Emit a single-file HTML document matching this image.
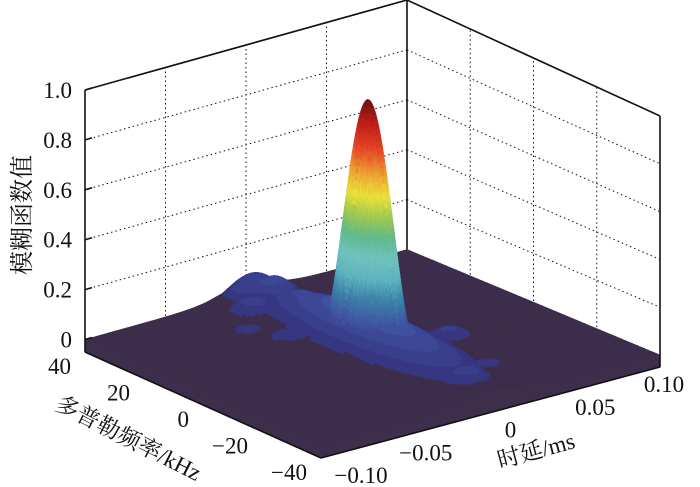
<!DOCTYPE html>
<html><head><meta charset="utf-8"><style>
html,body{margin:0;padding:0;background:#fff;}
svg{display:block;}
text{font-family:"Liberation Serif","Noto Serif CJK SC","Noto Sans CJK SC",serif;fill:#111;}
</style></head><body>
<svg id="chart" width="700" height="487" viewBox="0 0 700 487" xmlns="http://www.w3.org/2000/svg">
<g id="walls"></g>
<g id="surf"></g>
<g id="box"></g>
<g id="labels"></g>
<text x="0" y="0" font-size="24" text-anchor="middle" transform="translate(30,215) rotate(-90)">模糊函数值</text>
<text x="0" y="0" font-size="23" text-anchor="middle" transform="translate(125,445) rotate(27)">多普勒频率/kHz</text>
<text x="0" y="0" font-size="23" text-anchor="middle" transform="translate(538,458) rotate(-15)">时延/ms</text>
</svg>
<script>
// data arrays
const zTicks = [0, 0.2, 0.4, 0.6, 0.8, 1.0];
const zTickLabels = ["0", "0.2", "0.4", "0.6", "0.8", "1.0"];
const fTicks = [40, 20, 0, -20, -40];
const fTickLabels = ["40", "20", "0", "\u221220", "\u221240"];
const dTicks = [-0.10, -0.05, 0, 0.05, 0.10];
const dTickLabels = ["\u22120.10", "\u22120.05", "0", "0.05", "0.10"];
// main peak: delay(ms), doppler(kHz), height
const peakDelay = [0.0];
const peakDoppler = [0];
const peakHeight = [1.0];
// pedestal ridge along doppler at the peak delay
const ridgeHeight = [0.15];
// sidelobes: delay, doppler, height
const lobeDelay =   [0.0,  0.0,  0.0,  0.0,  0.0,  -0.03, -0.05, 0.03, 0.05, -0.02, 0.02, -0.04, 0.04, -0.01];
const lobeDoppler = [22,  -24,   31,  -32,   37,    10,    -8,   -10,   8,    27,   -28,   18,   -18,   34];
const lobeHeight =  [0.11, 0.10, 0.12, 0.09, 0.10,  0.07,  0.05, 0.08,  0.05, 0.09,  0.06, 0.06, 0.05,  0.10];

const NS='http://www.w3.org/2000/svg';
const F=[321,458], R=[660,367], L=[85,352], B=[407,262];
const HF=265, HR=251, HL=262, HB=262;
const ZMIN=-0.05;
function proj(d,f,z){
  const a=(d+0.1)/0.2, b=(f+40)/80;
  const x=(1-a)*(1-b)*F[0]+a*(1-b)*R[0]+(1-a)*b*L[0]+a*b*B[0];
  const y0=(1-a)*(1-b)*F[1]+a*(1-b)*R[1]+(1-a)*b*L[1]+a*b*B[1];
  const h=(1-a)*(1-b)*HF+a*(1-b)*HR+(1-a)*b*HL+a*b*HB;
  return [x, y0-(z-ZMIN)/1.05*h];
}
function el(tag,attrs,parent){const e=document.createElementNS(NS,tag);for(const k in attrs)e.setAttribute(k,attrs[k]);parent.appendChild(e);return e;}
function line(p,q,parent,dash,name){
  const e=el('line',{x1:p[0],y1:p[1],x2:q[0],y2:q[1],stroke:'#111','stroke-width':dash?1:1.6},parent);
  if(dash)e.setAttribute('stroke-dasharray','1.5,3');
  
  
  return e;
}
const walls=document.getElementById('walls');
zTicks.forEach(z=>{ if(z>0&&z<1){
  line(proj(-0.1,40,z),proj(0.1,40,z),walls,true,'gridline-z');
  line(proj(0.1,40,z),proj(0.1,-40,z),walls,true,'gridline-z');
}});
dTicks.forEach(d=>{ if(d>-0.1&&d<0.1) line(proj(d,40,ZMIN),proj(d,40,1),walls,true,'gridline-delay');});
fTicks.forEach(f=>{ if(f>-40&&f<40) line(proj(0.1,f,ZMIN),proj(0.1,f,1),walls,true,'gridline-doppler');});
line(proj(0.1,40,ZMIN),proj(0.1,40,1),walls,false,'back-edge');

function zval(d,f){
  let z=0;
  for(let i=0;i<peakDelay.length;i++){
    const u=(d-peakDelay[i])/0.019, v=(f-peakDoppler[i])/13;
    const r=Math.sqrt(u*u+v*v);
    if(r<1){const c=Math.cos(r*Math.PI/2); z+=peakHeight[i]*c*c;}
  }
  let s=ridgeHeight[0]*Math.exp(-0.5*Math.pow(d/0.017,2))*Math.exp(-0.5*Math.pow(f/24,2));
  for(let i=0;i<lobeDelay.length;i++){
    const u=(d-lobeDelay[i])/0.011, v=(f-lobeDoppler[i])/4;
    s=Math.max(s,lobeHeight[i]*Math.exp(-0.5*(u*u+v*v)));
  }
  z=Math.max(z,s);
  return Math.min(z,1);
}
const cmap=[[0,[61,46,76]],[0.035,[61,46,76]],[0.05,[55,55,130]],[0.12,[64,80,160]],[0.22,[60,130,170]],[0.3,[95,180,190]],[0.38,[112,195,190]],[0.46,[95,185,140]],[0.54,[160,200,80]],[0.62,[235,225,60]],[0.7,[235,165,50]],[0.8,[230,70,40]],[0.9,[190,30,25]],[1,[95,20,20]]];
function color(z){
  z=Math.floor(z*40)/40;
  for(let i=1;i<cmap.length;i++){ if(z<=cmap[i][0]){
    const t=(z-cmap[i-1][0])/(cmap[i][0]-cmap[i-1][0]);
    const a=cmap[i-1][1],b=cmap[i][1];
    return 'rgb('+a.map((v,k)=>Math.round(v+(b[k]-v)*t)).join(',')+')';
  }}
  return 'rgb(95,20,20)';
}
const surf=document.getElementById('surf');
// nonuniform grid: dense around the main peak
function grid(lo,hi,wlo,whi,nOut,nIn){
  const g=[];
  for(let i=0;i<nOut;i++)g.push(lo+(wlo-lo)*i/nOut);
  for(let i=0;i<nIn;i++)g.push(wlo+(whi-wlo)*i/nIn);
  for(let i=0;i<=nOut;i++)g.push(whi+(hi-whi)*i/nOut);
  return g;
}
const dg=grid(-0.1,0.1,-0.022,0.022,40,110);
const fg=grid(-40,40,-15,15,45,110);
const Z=dg.map(d=>fg.map(f=>zval(d,f)));
const quads=[];
for(let i=0;i<dg.length-1;i++)for(let j=0;j<fg.length-1;j++){
  const c=proj((dg[i]+dg[i+1])/2,(fg[j]+fg[j+1])/2,ZMIN);
  quads.push([i,j,c[1]]);
}
quads.sort((p,q)=>p[2]-q[2]);
const nd=dg.length-1, nf=fg.length-1;
const sk1=[proj(-0.1,40,ZMIN)];
for(let j=nf;j>=0;j--)sk1.push(proj(-0.1,fg[j],Z[0][j]));
for(let i=0;i<=nd;i++)sk1.push(proj(dg[i],-40,Z[i][0]));
sk1.push(proj(0.1,-40,ZMIN));sk1.push(proj(-0.1,-40,ZMIN));
quads.forEach(([i,j])=>{
  const zz=(Z[i][j]+Z[i+1][j]+Z[i][j+1]+Z[i+1][j+1])/4;
  const pts=[proj(dg[i],fg[j],Z[i][j]),proj(dg[i+1],fg[j],Z[i+1][j]),proj(dg[i+1],fg[j+1],Z[i+1][j+1]),proj(dg[i],fg[j+1],Z[i][j+1])];
  const c=color(zz);
  const p=el('polygon',{points:pts.map(q=>q[0].toFixed(1)+','+q[1].toFixed(1)).join(' '),fill:c,stroke:c,'stroke-width':0.6},surf);
  
  
});
const sk=el('polygon',{points:sk1.map(q=>q[0].toFixed(1)+','+q[1].toFixed(1)).join(' '),fill:'rgb(61,46,76)',stroke:'rgb(61,46,76)'},surf);



const box=document.getElementById('box');
line(proj(-0.1,40,ZMIN),proj(-0.1,40,1),box,false,'z-axis-line');
line(proj(-0.1,40,1),proj(0.1,40,1),box,false,'top-edge-left');
line(proj(0.1,40,1),proj(0.1,-40,1),box,false,'top-edge-right');
line(proj(0.1,-40,ZMIN),proj(0.1,-40,1),box,false,'right-edge');
line(proj(-0.1,40,ZMIN),proj(-0.1,-40,ZMIN),box,false,'doppler-axis-line');
line(proj(-0.1,-40,ZMIN),proj(0.1,-40,ZMIN),box,false,'delay-axis-line');
zTicks.forEach(z=>{const p=proj(-0.1,40,z);line(p,[p[0]+7,p[1]-2],box,false,'z-tick');});

const labels=document.getElementById('labels');
function txt(s,x,y,anchor,name){
  const t=el('text',{x:x,y:y,'font-size':23,'text-anchor':anchor},labels);
  t.textContent=s;
  
  
}
zTicks.forEach((z,i)=>{const p=proj(-0.1,40,z);txt(zTickLabels[i],p[0]-13,p[1]+8,'end','z-tick-label');});
fTicks.forEach((f,i)=>{const p=proj(-0.1,f,ZMIN);txt(fTickLabels[i],p[0]-14,p[1]+22,'end','doppler-tick-label');});
dTicks.forEach((d,i)=>{const p=proj(d,-40,ZMIN);txt(dTickLabels[i],p[0]+(i==0?40:i==4?4:20),p[1]+25,'middle','delay-tick-label');});
</script>
</body></html>
